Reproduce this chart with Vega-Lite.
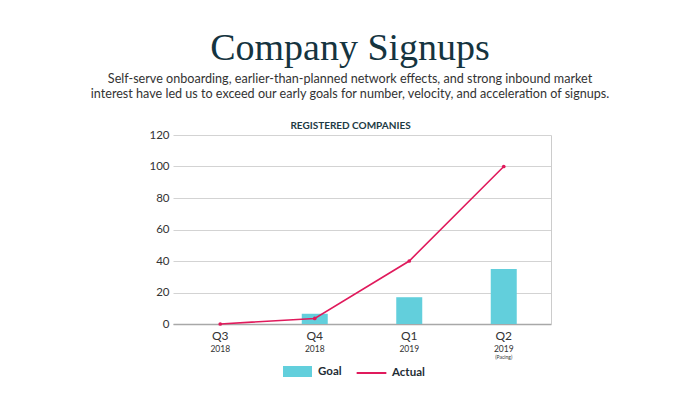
{
  "$schema": "https://vega.github.io/schema/vega-lite/v6.json",
  "width": 378,
  "height": 189,
  "autosize": {"type": "none"},
  "padding": {"left": 173, "top": 135, "right": 149, "bottom": 70},
  "background": "white",
  "config": {"view": {"stroke": null}, "font": "Lato"},
  "title": {
    "text": "Company Signups",
    "subtitle": [
      "Self-serve onboarding, earlier-than-planned network effects, and strong inbound market",
      "interest have led us to exceed our early goals for number, velocity, and acceleration of signups."
    ],
    "font": "Liberation Serif",
    "fontSize": 38,
    "fontWeight": "normal",
    "color": "#15343f",
    "subtitleFont": "Lato",
    "subtitleFontSize": 12.6,
    "subtitleColor": "#333333",
    "subtitleLineHeight": 15.5,
    "subtitlePadding": 5,
    "anchor": "middle",
    "frame": "group",
    "dx": -12,
    "offset": 19
  },
  "data": {
    "values": [
      {"period": "Q3 2018", "goal": 0, "actual": 0},
      {"period": "Q4 2018", "goal": 6.5, "actual": 3.5},
      {"period": "Q1 2019", "goal": 17, "actual": 40},
      {"period": "Q2 2019", "goal": 35, "actual": 100}
    ]
  },
  "layer": [
    {
      "mark": {"type": "bar", "size": 26},
      "encoding": {
        "x": {
          "field": "period", "type": "ordinal", "sort": null,
          "scale": {"paddingInner": 0, "paddingOuter": 0},
          "axis": {
            "orient": "bottom", "title": null,
            "labelExpr": "split(datum.value, ' ')[0]",
            "ticks": false, "domain": true, "domainColor": "#a8a8a8", "domainWidth": 1.5,
            "labelPadding": 6, "labelFontSize": 12, "labelColor": "#333333", "labelAngle": 0
          }
        },
        "y": {
          "field": "goal", "type": "quantitative",
          "scale": {"domain": [0, 120]},
          "axis": {
            "values": [0, 20, 40, 60, 80, 100, 120], "title": null,
            "ticks": false, "domain": false, "gridColor": "#d3d3d3",
            "labelPadding": 4, "labelFontSize": 11.5, "labelColor": "#333333"
          }
        },
        "color": {
          "datum": "Goal", "type": "nominal",
          "scale": {"domain": ["Goal", "Actual"], "range": ["#62cfdc", "#e01a5c"]},
          "legend": {
            "orient": "none", "legendX": 110, "legendY": 222,
            "direction": "horizontal", "title": null,
            "labelFont": "Lato", "labelFontSize": 11.5, "labelFontWeight": "bold", "labelColor": "#1e2d35",
            "labelOffset": 6, "columnPadding": 10, "symbolSize": 729,
            "encode": {
              "symbols": {
                "update": {
                  "shape": {"signal": "datum.value === 'Goal' ? 'M-1,-0.333H1V0.333H-1Z' : 'M-1.1,0H1.1'"},
                  "fill": {"signal": "datum.value === 'Goal' ? '#62cfdc' : 'transparent'"},
                  "stroke": {"signal": "datum.value === 'Goal' ? 'transparent' : '#e01a5c'"},
                  "strokeWidth": {"value": 2},
                  "opacity": {"value": 1}
                }
              }
            }
          }
        }
      }
    },
    {
      "mark": {"type": "line", "strokeWidth": 1.6},
      "encoding": {
        "x": {
          "field": "period", "type": "ordinal", "sort": null,
          "axis": {
            "orient": "top", "title": "REGISTERED COMPANIES", "labels": false, "ticks": false, "domain": false,
            "titleFontSize": 10, "titleFontWeight": "bold", "titleColor": "#1d3a44", "titlePadding": 5, "titleX": 177
          }
        },
        "y": {
          "field": "actual", "type": "quantitative",
          "axis": {"orient": "right", "title": null, "labels": false, "ticks": false, "grid": false, "domain": true, "domainColor": "#cccccc"}
        },
        "color": {"datum": "Actual", "type": "nominal"}
      }
    },
    {
      "mark": {"type": "point", "filled": true, "size": 14, "color": "#e01a5c", "opacity": 1},
      "encoding": {
        "x": {
          "field": "period", "type": "ordinal", "sort": null,
          "axis": {
            "orient": "bottom", "title": null, "labelExpr": "split(datum.value, ' ')[1]",
            "ticks": false, "domain": false, "labelPadding": 20, "labelFontSize": 8.5, "labelColor": "#333333", "labelAngle": 0
          }
        },
        "y": {"field": "actual", "type": "quantitative", "axis": null}
      }
    },
    {
      "mark": {"type": "tick", "opacity": 0},
      "encoding": {
        "x": {
          "field": "period", "type": "ordinal", "sort": null,
          "axis": {
            "orient": "bottom", "title": null, "labelExpr": "datum.value == 'Q2 2019' ? '(Pacing)' : ''",
            "ticks": false, "domain": false, "labelPadding": 30, "labelFontSize": 5, "labelColor": "#333333", "labelAngle": 0
          }
        },
        "y": {"field": "actual", "type": "quantitative", "axis": null}
      }
    }
  ],
  "resolve": {"axis": {"x": "independent", "y": "independent"}}
}
